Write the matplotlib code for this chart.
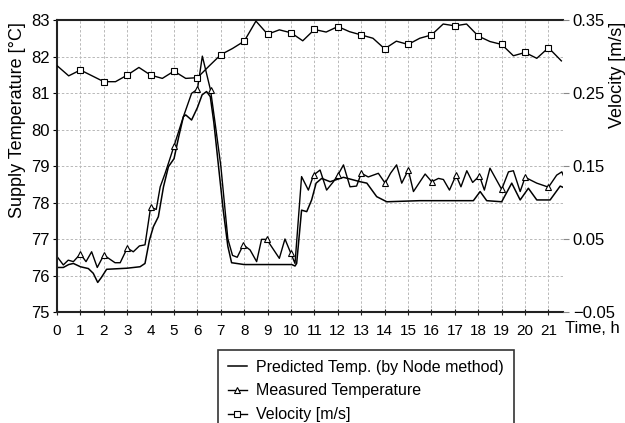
import matplotlib
matplotlib.use("Agg")
import matplotlib.pyplot as plt
import numpy as np

plt.rcParams['font.family'] = ['Liberation Sans', 'DejaVu Sans']

# ---------------- data ----------------
hours = list(range(0, 22))

pred_time = [0.0, 0.27, 0.5, 0.7, 1.0, 1.34, 1.55, 1.74, 1.9, 2.12, 3.0, 3.55, 3.76,
             3.95, 4.12, 4.33, 4.55, 4.76, 5.0, 5.2, 5.4, 5.5, 5.75, 6.0, 6.2, 6.39,
             6.55, 6.7, 6.9, 7.1, 7.3, 7.46, 8.0, 9.0, 10.03, 10.17, 10.24, 10.45,
             10.67, 10.88, 11.07, 11.31, 11.67, 12.24, 12.95, 13.24, 13.66, 14.09,
             15.5, 17.79, 18.08, 18.36, 19.0, 19.43, 19.79, 20.14, 20.5, 21.07,
             21.5, 21.64]
pred_temp = [76.22, 76.22, 76.30, 76.33, 76.24, 76.19, 76.06, 75.81, 75.95, 76.17,
             76.20, 76.24, 76.33, 76.97, 77.34, 77.61, 78.43, 78.98, 79.20, 79.80,
             80.35, 80.40, 80.26, 80.60, 80.95, 81.04, 80.90, 80.20, 79.00, 77.80,
             76.80, 76.35, 76.30, 76.30, 76.30, 76.26, 76.33, 77.79, 77.75, 78.07,
             78.53, 78.66, 78.57, 78.69, 78.57, 78.53, 78.16, 78.02, 78.05, 78.05,
             78.30, 78.05, 78.02, 78.53, 78.07, 78.39, 78.07, 78.07, 78.45, 78.41]

meas_time = [0.0, 0.27, 0.48, 0.7, 1.0, 1.24, 1.48, 1.72, 2.0, 2.48, 2.7, 3.0, 3.26,
             3.52, 3.76, 4.0, 4.24, 4.41, 4.62, 4.83, 5.0, 5.4, 5.75, 6.0, 6.21,
             6.56, 6.75, 7.0, 7.3, 7.5, 7.7, 7.96, 8.25, 8.53, 8.74, 8.96, 9.5,
             9.74, 9.99, 10.17, 10.45, 10.74, 10.96, 11.24, 11.52, 11.81, 12.0,
             12.24, 12.52, 12.8, 13.0, 13.3, 13.73, 14.02, 14.25, 14.51, 14.73,
             15.01, 15.23, 15.51, 15.73, 16.01, 16.3, 16.51, 16.77, 17.05, 17.26,
             17.51, 17.76, 18.05, 18.26, 18.5, 19.0, 19.29, 19.5, 19.79, 20.0,
             20.5, 21.0, 21.35, 21.57, 21.64]
meas_temp = [76.52, 76.29, 76.42, 76.38, 76.59, 76.38, 76.65, 76.22, 76.56, 76.35,
             76.35, 76.75, 76.65, 76.81, 76.84, 77.87, 77.81, 78.43, 78.80, 79.21,
             79.55, 80.35, 80.99, 81.10, 82.01, 81.08, 80.20, 79.00, 77.00, 76.55,
             76.50, 76.84, 76.70, 76.38, 76.99, 76.99, 76.47, 77.00, 76.61, 76.33,
             78.71, 78.34, 78.75, 78.89, 78.34, 78.57, 78.75, 79.03, 78.43, 78.45,
             78.80, 78.70, 78.80, 78.53, 78.80, 79.03, 78.53, 78.89, 78.30, 78.57,
             78.78, 78.57, 78.66, 78.63, 78.34, 78.75, 78.43, 78.87, 78.55, 78.73,
             78.34, 78.94, 78.36, 78.84, 78.87, 78.30, 78.69, 78.53, 78.42, 78.75,
             78.84, 78.73]
meas_marker_times = [1.0, 2.0, 3.0, 4.0, 5.0, 6.0, 6.56, 7.96, 8.96, 9.99, 10.96,
                     12.0, 13.0, 14.02, 15.01, 16.01, 17.05, 18.05, 19.0, 20.0, 21.0]

vel_time = [0.0, 0.5, 1.0, 1.5, 2.0, 2.5, 3.0, 3.5, 4.0, 4.5, 5.0, 5.5, 6.0, 6.5,
            7.0, 7.5, 8.0, 8.5, 9.0, 9.5, 10.0, 10.5, 11.0, 11.5, 12.0, 12.5, 13.0,
            13.5, 14.0, 14.5, 15.0, 15.5, 16.0, 16.5, 17.0, 17.5, 18.0, 18.5, 19.0,
            19.5, 20.0, 20.5, 21.0, 21.55]
velocity = [0.2875, 0.2735, 0.2815, 0.2735, 0.2655, 0.2655, 0.2745, 0.2850, 0.2745,
            0.2700, 0.2800, 0.2700, 0.2710, 0.2870, 0.3025, 0.3110, 0.3210, 0.3485,
            0.3305, 0.3365, 0.3325, 0.3215, 0.3370, 0.3335, 0.3410, 0.3340, 0.3295,
            0.3250, 0.3105, 0.3210, 0.3165, 0.3250, 0.3295, 0.3445, 0.3420, 0.3445,
            0.3280, 0.3205, 0.3165, 0.3010, 0.3055, 0.2975, 0.3120, 0.2940]

temp_ticks = [75, 76, 77, 78, 79, 80, 81, 82, 83]
vel_ticks = [-0.05, 0.05, 0.15, 0.25, 0.35]

# ---------------- figure ----------------
W, H = 625, 423
fig = plt.figure(figsize=(W / 100, H / 100), dpi=100)
ax = fig.add_axes([57 / W, 1 - 312 / H, (563 - 57) / W, (312 - 20) / H])

ax.set_xlim(0, 21.62)
ax.set_ylim(75, 83)
ax.set_xticks(hours)
ax.set_yticks(temp_ticks)
ax.grid(True, color='#b8b8b8', linestyle=(0, (2.5, 2)), linewidth=0.7)
ax.set_axisbelow(True)

for s in ['top', 'left', 'bottom']:
    ax.spines[s].set_linewidth(1.5)
    ax.spines[s].set_color('#222222')
ax.spines['right'].set_visible(False)

ax.tick_params(axis='x', direction='inout', length=5, width=0.8, labelsize=11,
               pad=6, colors='#222222', labelcolor='black')
ax.tick_params(axis='y', direction='out', length=3, width=0.8, labelsize=12,
               pad=2, labelcolor='black')

l1, = ax.plot(pred_time, pred_temp, color='black', lw=1.1,
              label='Predicted Temp. (by Node method)')
mk = [meas_time.index(t) for t in meas_marker_times]
l2, = ax.plot(meas_time, meas_temp, color='black', lw=1.0, marker='^',
              markersize=5, markerfacecolor='white', markeredgewidth=0.8,
              markevery=mk, label='Measured Temperature')

ax2 = ax.twinx()
ax2.set_ylim(-0.05, 0.35)
ax2.set_yticks(vel_ticks)
ax2.set_yticklabels(['\u22120.05', '0.05', '0.15', '0.25', '0.35'])
for s in ax2.spines.values():
    s.set_visible(False)
ax2.tick_params(axis='y', direction='out', length=4, width=0.8, labelsize=12,
                pad=3, color='#888888', labelcolor='black')
l3, = ax2.plot(vel_time, velocity, color='black', lw=1.0, marker='s',
               markersize=4.2, markerfacecolor='white', markeredgewidth=0.8,
               markevery=list(range(2, len(vel_time), 2)), label='Velocity [m/s]')

fig.text(18 / W, 1 - 22 / H, 'Supply Temperature [°C]', rotation=90,
         ha='center', va='top', fontsize=13)
fig.text(617 / W, 1 - 22 / H, 'Velocity [m/s]', rotation=90,
         ha='center', va='top', fontsize=13)
fig.text(565 / W, 1 - 328 / H, 'Time, h', ha='left', va='center', fontsize=12)

leg = fig.legend(handles=[l1, l2, l3], loc='upper left',
                 bbox_to_anchor=(218 / W, 1 - 350 / H), frameon=True,
                 fancybox=False, edgecolor='black', fontsize=11.5,
                 handlelength=1.2, handletextpad=0.6, labelspacing=0.55,
                 borderpad=0.6, borderaxespad=0)
leg.get_frame().set_linewidth(1.2)

fig.savefig('out.png', dpi=100)
